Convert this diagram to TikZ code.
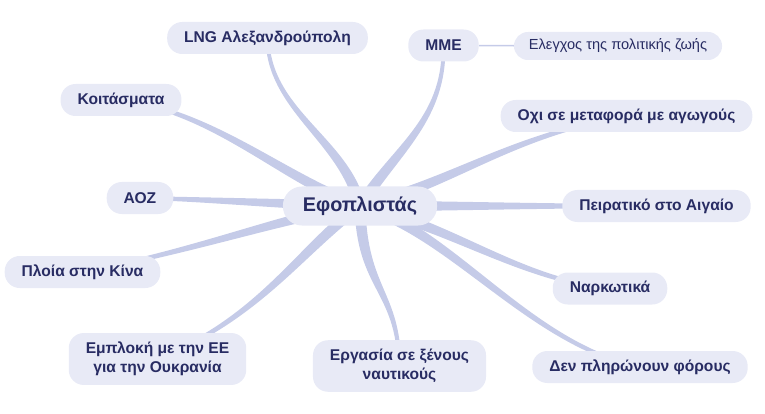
\documentclass[tikz,border=0pt]{standalone}
\usepackage{fontspec}
\setmainfont{Liberation Sans}
\usetikzlibrary{calc,backgrounds}
\definecolor{leaf}{HTML}{E8EAF6}
\definecolor{ink}{HTML}{282C63}
\definecolor{twig}{HTML}{C5CBE8}
\newcommand{\wa}{5.4pt}
\newcommand{\wb}{1.9pt}
% tapered branch from the hub: near control, far control, leaf point
\newcommand{\branch}[3]{%
  \fill[twig] ($(hub.center)!\wa!90:(#1)$)
    .. controls ($(#1)!\wa!-90:(hub.center)$) and ($(#2)!\wb!90:(#3)$)
    .. ($(#3)!\wb!-90:(#2)$)
    -- ($(#3)!\wb!90:(#2)$)
    .. controls ($(#2)!\wb!-90:(#3)$) and ($(#1)!\wa!90:(hub.center)$)
    .. ($(hub.center)!\wa!-90:(#1)$) -- cycle;}

\begin{document}
\begin{tikzpicture}[x=1pt, y=-1pt,
    topic/.style={fill=leaf, rounded corners=15pt, text=ink, align=center,
      font=\bfseries\fontsize{15.6}{19}\selectfont,
      inner xsep=17pt, inner ysep=8pt, minimum height=32pt},
    note/.style={fill=leaf, rounded corners=14pt, text=ink,
      font=\fontsize{14.6}{17}\selectfont,
      inner xsep=15pt, inner ysep=4pt, minimum height=28pt}]
  \useasboundingbox (0,0) rectangle (765,414);

  \node[topic, font=\bfseries\fontsize{19.8}{22}\selectfont, inner xsep=20pt,
    minimum height=39pt, rounded corners=19pt] (hub) at (360,206) {Εφοπλιστάς};

  \node[topic] (lng) at (267.5,38) {LNG Αλεξανδρούπολη};
  \node[topic] (mme) at (443.5,45.5) {MME};
  \node[note] (pol) at (618,46) {Ελεγχος της πολιτικής ζωής};
  \node[topic] (kts) at (121,100) {Κοιτάσματα};
  \node[topic] (oxi) at (626.5,116) {Οχι σε μεταφορά με αγωγούς};
  \node[topic] (aoz) at (140,198) {ΑΟΖ};
  \node[topic] (pir) at (656.5,206) {Πειρατικό στο Αιγαίο};
  \node[topic] (kina) at (82.5,272) {Πλοία στην Κίνα};
  \node[topic] (nark) at (610,288.5) {Ναρκωτικά};
  \node[topic, inner ysep=9pt] (ee) at (157.5,359) {Εμπλοκή με την ΕΕ\\ για την Ουκρανία};
  \node[topic, inner ysep=9pt] (erg) at (399.5,366) {Εργασία σε ξένους\\ ναυτικούς};
  \node[topic] (for) at (640,367) {Δεν πληρώνουν φόρους};

  \begin{scope}[on background layer]
    \branch{345,140}{268,110}{lng.center}
    \branch{395,150}{445,120}{mme.center}
    \branch{285,180}{215,112}{kts.center}
    \branch{450,185}{510,135}{oxi.center}
    \branch{300,205}{200,199}{aoz.center}
    \branch{420,206}{560,206}{pir.center}
    \branch{290,215}{200,250}{kina.center}
    \branch{450,225}{520,280}{nark.center}
    \branch{300,250}{260,318}{ee.center}
    \branch{362,290}{398,290}{erg.center}
    \branch{450,230}{530,345}{for.center}
    \draw[twig, line width=1.6pt] (mme) -- (pol);
  \end{scope}
\end{tikzpicture}
\end{document}
